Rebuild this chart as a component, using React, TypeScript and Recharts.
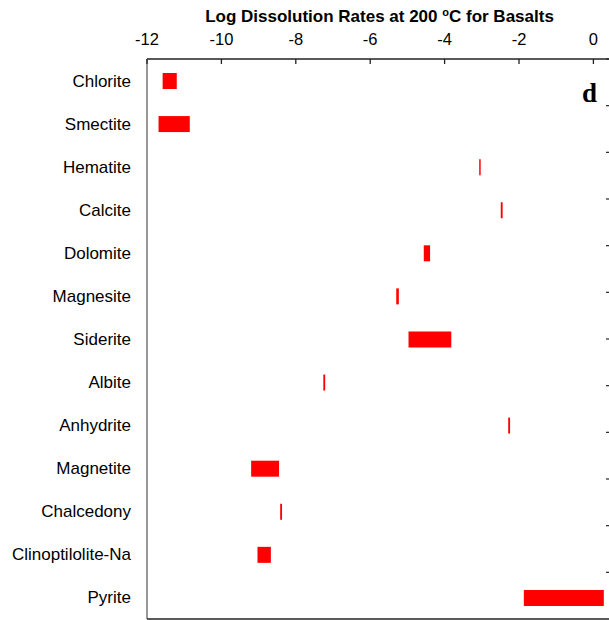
import React from 'react';
import { BarChart, Bar, XAxis, YAxis } from 'recharts';

// Minerals, top to bottom
const minerals = [
  'Chlorite',
  'Smectite',
  'Hematite',
  'Calcite',
  'Dolomite',
  'Magnesite',
  'Siderite',
  'Albite',
  'Anhydrite',
  'Magnetite',
  'Chalcedony',
  'Clinoptilolite-Na',
  'Pyrite',
];

// Log dissolution rate range (low / high end) for each mineral
const rateLow = [-11.58, -11.69, -3.07, -2.49, -4.56, -5.3, -4.97, -7.26, -2.29, -9.2, -8.42, -9.03, -1.87];
const rateHigh = [-11.2, -10.85, -3.03, -2.44, -4.39, -5.23, -3.82, -7.21, -2.24, -8.45, -8.37, -8.67, 0.28];

const rateTicks = [-12, -10, -8, -6, -4, -2, 0];
const rateDomain = [-12, 0.5];
const rowBoundaries = [1, 2, 3, 4, 5, 6, 7, 8, 9, 10, 11, 12];

const data = minerals.map((name, i) => ({ name, range: [rateLow[i], rateHigh[i]] }));

const FONT = '"Liberation Sans", Arial, Helvetica, sans-serif';

const TopTick = (props: any) => {
  const { x, y, payload } = props;
  return (
    <g>
      <text x={x} y={y} textAnchor="middle" fontSize={16.5} fontFamily={FONT} fill="#000">
        {String(payload.value)}
      </text>
      <line x1={x} x2={x} y1={y + 14} y2={y + 19} stroke="#222" strokeWidth={1.3} />
    </g>
  );
};

const RightTick = (props: any) => {
  const { x, y } = props;
  return <line x1={x - 6} x2={x} y1={y} y2={y} stroke="#222" strokeWidth={1.2} />;
};

const TitleLabel = (props: any) => {
  const vb = props.viewBox || { x: 147, width: 464 };
  const cx = vb.x + vb.width / 2;
  return (
    <g>
      <text x={cx} y={22} textAnchor="middle" fontSize={17} fontWeight="bold" fontFamily={FONT} fill="#000">
        <tspan>Log Dissolution Rates at 200 </tspan>
        <tspan dy={-6} fontSize={11}>o</tspan>
        <tspan dy={6}>C for Basalts</tspan>
      </text>
      <text
        x={582}
        y={102}
        fontSize={27}
        fontWeight="bold"
        fontFamily='"Liberation Serif", "Times New Roman", serif'
        fill="#000"
      >
        d
      </text>
    </g>
  );
};

export default function App() {
  return (
    <div style={{ position: 'absolute', left: 0, top: 0, width: 609, height: 620, overflow: 'hidden', background: '#fff' }}>
      <BarChart
        width={622}
        height={621}
        data={data}
        layout="vertical"
        margin={{ top: 0, right: 0, bottom: 0, left: 0 }}
        barCategoryGap={0}
      >
        <XAxis
          xAxisId="top"
          type="number"
          orientation="top"
          domain={rateDomain}
          ticks={rateTicks}
          interval={0}
          height={59}
          tickSize={0}
          tickMargin={14}
          tick={<TopTick />}
          axisLine={{ stroke: '#222', strokeWidth: 1.5 }}
          allowDataOverflow
          label={<TitleLabel />}
        />
        <XAxis
          xAxisId="frame"
          type="number"
          orientation="bottom"
          domain={rateDomain}
          height={2}
          tick={false}
          tickLine={false}
          axisLine={{ stroke: '#222', strokeWidth: 1.3 }}
          allowDataOverflow
        />
        <YAxis
          yAxisId="cat"
          type="category"
          dataKey="name"
          width={147}
          tickSize={0}
          tickMargin={16}
          tickLine={false}
          interval={0}
          axisLine={{ stroke: '#333', strokeWidth: 1 }}
          tick={{ fontSize: 17, fill: '#000', fontFamily: FONT }}
        />
        <YAxis
          yAxisId="rows"
          type="number"
          orientation="right"
          domain={[0, 13]}
          ticks={rowBoundaries}
          interval={0}
          reversed
          width={10}
          tickSize={0}
          tickMargin={0}
          tick={<RightTick />}
          axisLine={{ stroke: '#222', strokeWidth: 1.3 }}
          allowDataOverflow
        />
        <Bar
          xAxisId="top"
          yAxisId="cat"
          dataKey="range"
          fill="#ff0000"
          barSize={16}
          isAnimationActive={false}
        />
      </BarChart>
    </div>
  );
}
